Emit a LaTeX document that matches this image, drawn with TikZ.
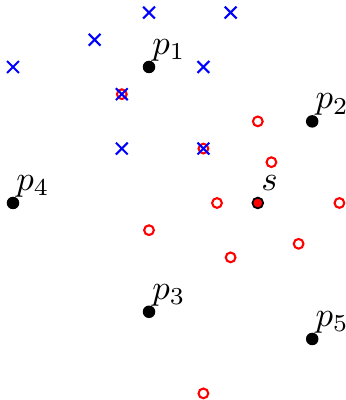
\documentclass[tikz,border=0pt]{standalone}
\usetikzlibrary{shapes.misc}
\begin{document}
\begin{tikzpicture}[x=0.275cm,y=0.275cm,
  pt/.style={circle,fill=black,inner sep=0pt,minimum size=3.6pt},
  spt/.style={circle,fill=red,draw=black,line width=0.5pt,inner sep=0pt,minimum size=3.1pt},
  rc/.style={circle,draw=red,line width=0.6pt,inner sep=0pt,minimum size=2.8pt},
  bx/.style={cross out,draw=blue,line width=0.6pt,inner sep=0pt,minimum size=2.8pt},
  lab/.style={anchor=base west,inner sep=0pt,xshift=0.8pt,yshift=3.6pt}]
\useasboundingbox (-0.478,-7.243) rectangle (12.206,7.463);
% red circles
\foreach \x/\y [count=\i] in {9/3,9.5/1.5,7.5/0,12/0,5/-1,10.5/-1.5,8/-2,7/-7,4/4,7/2}
  \node[rc] (r\i) at (\x,\y) {};
% blue crosses
\foreach \x/\y [count=\i] in {5/7,8/7,3/6,0/5,7/5,4/4,4/2,7/2}
  \node[bx] (b\i) at (\x,\y) {};
% points
\node[pt] (p1) at (5,5) {};
\node[pt] (p2) at (11,3) {};
\node[pt] (p3) at (5,-4) {};
\node[pt] (p4) at (0,0) {};
\node[pt] (p5) at (11,-5) {};
\node[spt] (s) at (9,0) {};
\node[lab] (l1) at (p1.center) {$p_1$};
\node[lab] (l2) at (p2.center) {$p_2$};
\node[lab] (l3) at (p3.center) {$p_3$};
\node[lab] (l4) at (p4.center) {$p_4$};
\node[lab] (l5) at (p5.center) {$p_5$};
\node[lab] (ls) at (s.center) {$s$};
\end{tikzpicture}
\end{document}
